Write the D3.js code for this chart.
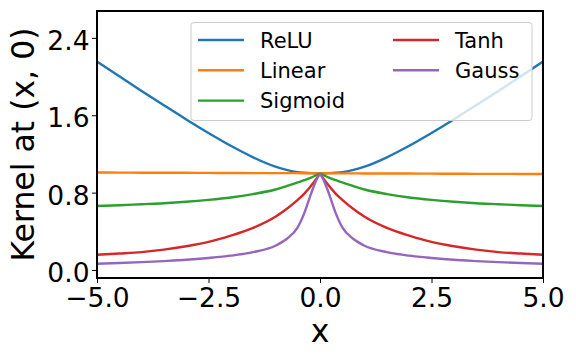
<!DOCTYPE html>
<html>
<head>
<meta charset="utf-8">
<script src="https://cdn.jsdelivr.net/npm/d3@7"></script>
<style>
  body { margin: 0; background: #fff; }
  text { font-family: "DejaVu Sans", sans-serif; }
</style>
</head>
<body>
<svg id="chart" width="576" height="360"></svg>
<script>
// sample points along x
const xs = [-5, -4.5, -4, -3.5, -3, -2.5, -2, -1.5, -1, -0.75, -0.5, -0.35, -0.2, -0.1, 0,
            0.1, 0.2, 0.35, 0.5, 0.75, 1, 1.5, 2, 2.5, 3, 3.5, 4, 4.5, 5];

const relu = [2.155, 2.002, 1.851, 1.703, 1.557, 1.417, 1.284, 1.165, 1.068, 1.035, 1.012, 1.006, 1.002, 1.0005, 1,
              1.0005, 1.002, 1.006, 1.012, 1.035, 1.068, 1.165, 1.284, 1.417, 1.557, 1.703, 1.851, 2.002, 2.155];
const linear = [1.008, 1.007, 1.006, 1.006, 1.005, 1.004, 1.003, 1.002, 1.002, 1.001, 1.001, 1.0, 1.0, 1.0, 1,
                1.0, 1.0, 0.999, 0.999, 0.999, 0.998, 0.998, 0.997, 0.996, 0.995, 0.994, 0.994, 0.993, 0.992];
const sigmoid = [0.662, 0.67, 0.68, 0.69, 0.705, 0.725, 0.75, 0.785, 0.832, 0.868, 0.905, 0.93, 0.955, 0.977, 1,
                 0.977, 0.955, 0.93, 0.905, 0.868, 0.832, 0.785, 0.75, 0.725, 0.705, 0.69, 0.68, 0.67, 0.662];
const tanh = [0.157, 0.17, 0.185, 0.21, 0.245, 0.29, 0.355, 0.435, 0.55, 0.63, 0.725, 0.79, 0.87, 0.93, 1,
              0.93, 0.87, 0.79, 0.725, 0.63, 0.55, 0.435, 0.355, 0.29, 0.245, 0.21, 0.185, 0.17, 0.157];
const gauss = [0.065, 0.072, 0.081, 0.092, 0.105, 0.124, 0.148, 0.184, 0.25, 0.32, 0.44, 0.59, 0.79, 0.91, 1,
               0.91, 0.79, 0.59, 0.44, 0.32, 0.25, 0.184, 0.148, 0.124, 0.105, 0.092, 0.081, 0.072, 0.065];

const names = ["ReLU", "Linear", "Sigmoid", "Tanh", "Gauss"];
const colors = ["#1f77b4", "#ff7f0e", "#2ca02c", "#d62728", "#9467bd"];
const seriesValues = [relu, linear, sigmoid, tanh, gauss];

const xTicks = [-5, -2.5, 0, 2.5, 5];
const yTicks = [0, 0.8, 1.6, 2.4];

const svg = d3.select("#chart");
const margin = { top: 11, right: 33, bottom: 82, left: 97 };
const width = +svg.attr("width");
const height = +svg.attr("height");

const x = d3.scaleLinear().domain([-5, 5]).range([margin.left, width - margin.right]);
const y = d3.scaleLinear().domain([-0.083, 2.678]).range([height - margin.bottom, margin.top]);

svg.append("defs").append("clipPath").attr("id", "clip")
    .append("rect")
    .attr("x", margin.left).attr("y", margin.top)
    .attr("width", x.range()[1] - x.range()[0])
    .attr("height", y.range()[0] - y.range()[1]);

// lines: each half drawn with its own monotone curve so the cusp at 0 stays sharp
const line = d3.line()
    .x(d => x(d[0]))
    .y(d => y(d[1]))
    .curve(d3.curveMonotoneX);

const lines = svg.append("g").attr("clip-path", "url(#clip)");
seriesValues.forEach((vals, i) => {
    const pts = xs.map((v, j) => [v, vals[j]]);
    const left = pts.filter(p => p[0] <= 0);
    const right = pts.filter(p => p[0] >= 0);
    lines.append("path")
        .attr("d", line(left) + line(right))
        .attr("fill", "none")
        .attr("stroke", colors[i])
        .attr("stroke-width", 2.4)
        .attr("stroke-linejoin", "round");
});

// axes
const fmt = d3.format(".1f");
const xAxis = svg.append("g")
    .attr("transform", `translate(0,${height - margin.bottom})`)
    .call(d3.axisBottom(x).tickValues(xTicks).tickFormat(fmt).tickSize(5));
const yAxis = svg.append("g")
    .attr("transform", `translate(${margin.left},0)`)
    .call(d3.axisLeft(y).tickValues(yTicks).tickFormat(fmt).tickSize(5));

[xAxis, yAxis].forEach(a => {
    a.select(".domain").remove();
    a.selectAll(".tick line").attr("stroke", "#000").attr("stroke-width", 1);
    a.selectAll(".tick text")
        .attr("fill", "#000")
        .style("font-size", "26.5px");
});
xAxis.selectAll(".tick text").attr("y", 28.7).attr("dy", 0);
yAxis.selectAll(".tick text").attr("x", -7.5).attr("dy", "0.44em");

// frame
svg.append("rect")
    .attr("x", margin.left).attr("y", margin.top)
    .attr("width", x.range()[1] - x.range()[0])
    .attr("height", y.range()[0] - y.range()[1])
    .attr("fill", "none")
    .attr("stroke", "#000")
    .attr("stroke-width", 2);

// axis labels
svg.append("text")
    .attr("x", (x.range()[0] + x.range()[1]) / 2)
    .attr("y", 341.5)
    .attr("text-anchor", "middle")
    .style("font-size", "31.5px")
    .text("x");

svg.append("text")
    .attr("transform", `translate(34,${(y.range()[0] + y.range()[1]) / 2}) rotate(-90)`)
    .attr("text-anchor", "middle")
    .style("font-size", "31.5px")
    .text("Kernel at (x, 0)");

// legend
const legend = svg.append("g");
legend.append("rect")
    .attr("x", 191).attr("y", 22.5)
    .attr("width", 341).attr("height", 98)
    .attr("rx", 3)
    .attr("fill", "rgba(255,255,255,0.8)")
    .attr("stroke", "#cccccc")
    .attr("stroke-width", 1);

names.forEach((name, i) => {
    const col = Math.floor(i / 3);
    const row = i % 3;
    const lx = col === 0 ? 198 : 393;
    const ly = 40 + row * 30.3;
    const item = legend.append("g").attr("transform", `translate(${lx},${ly})`);
    item.append("line")
        .attr("x1", 0).attr("x2", 46)
        .attr("stroke", colors[i])
        .attr("stroke-width", 2.4);
    item.append("text")
        .attr("x", 62)
        .attr("dy", "0.36em")
        .style("font-size", "21px")
        .text(name);
});
</script>
</body>
</html>
